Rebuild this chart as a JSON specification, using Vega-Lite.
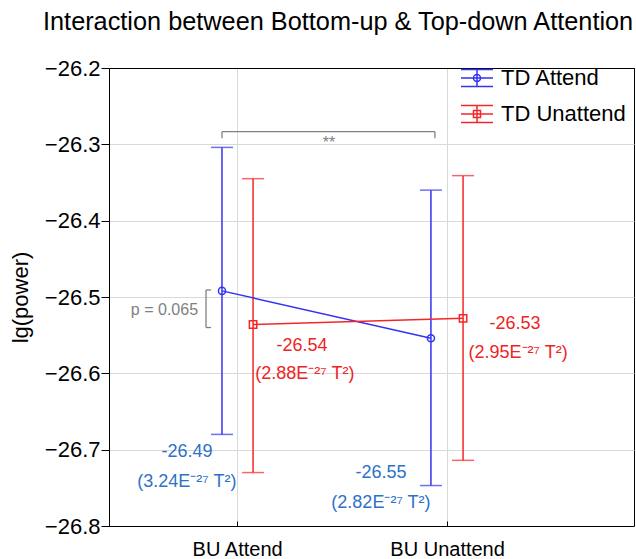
{
  "$schema": "https://vega.github.io/schema/vega-lite/v6.json",
  "width": 525,
  "height": 458,
  "autosize": {"type": "none"},
  "padding": {"left": 109, "top": 68, "right": 2, "bottom": 33},
  "background": "white",
  "title": {
    "text": "Interaction between Bottom-up & Top-down Attention",
    "font": "Liberation Sans",
    "fontSize": 25.3,
    "fontWeight": "normal",
    "color": "black",
    "anchor": "start",
    "frame": "group",
    "dx": -66,
    "offset": 2,
    "baseline": "alphabetic"
  },
  "config": {
    "view": {"stroke": "black", "strokeWidth": 1},
    "font": "Liberation Sans",
    "legend": {
      "orient": "none", "legendX": 351, "legendY": -7,
      "title": null, "padding": 0,
      "labelFontSize": 22, "labelFont": "Liberation Sans", "labelColor": "black",
      "labelOffset": 7, "symbolSize": 1024, "symbolStrokeWidth": 1.5,
      "symbolOpacity": 1, "symbolFillColor": "transparent", "rowPadding": 7
    }
  },
  "datasets": {
    "means": [
      {"condition": "BU Attend", "series": "TD Attend", "pos": 0.928, "mean": -26.492, "lo": -26.680, "hi": -26.304},
      {"condition": "BU Unattend", "series": "TD Attend", "pos": 1.923, "mean": -26.554, "lo": -26.747, "hi": -26.360},
      {"condition": "BU Attend", "series": "TD Unattend", "pos": 1.076, "mean": -26.536, "lo": -26.730, "hi": -26.345},
      {"condition": "BU Unattend", "series": "TD Unattend", "pos": 2.076, "mean": -26.528, "lo": -26.714, "hi": -26.341}
    ],
    "labels": [
      {"series": "TD Attend", "x": 0.761, "y": -26.703, "text": "-26.49"},
      {"series": "TD Attend", "x": 0.761, "y": -26.742, "text": "(3.24E⁻²⁷ T²)"},
      {"series": "TD Attend", "x": 1.685, "y": -26.731, "text": "-26.55"},
      {"series": "TD Attend", "x": 1.685, "y": -26.770, "text": "(2.82E⁻²⁷ T²)"},
      {"series": "TD Unattend", "x": 1.309, "y": -26.564, "text": "-26.54"},
      {"series": "TD Unattend", "x": 1.323, "y": -26.601, "text": "(2.88E⁻²⁷ T²)"},
      {"series": "TD Unattend", "x": 2.323, "y": -26.535, "text": "-26.53"},
      {"series": "TD Unattend", "x": 2.338, "y": -26.573, "text": "(2.95E⁻²⁷ T²)"}
    ],
    "brackets": [
      {"x": 0.928, "x2": 1.942, "y": -26.2834, "y2": -26.2834},
      {"x": 0.928, "x2": 0.928, "y": -26.2834, "y2": -26.292},
      {"x": 1.942, "x2": 1.942, "y": -26.2834, "y2": -26.292},
      {"x": 0.852, "x2": 0.852, "y": -26.4908, "y2": -26.540},
      {"x": 0.852, "x2": 0.876, "y": -26.4908, "y2": -26.4908},
      {"x": 0.852, "x2": 0.876, "y": -26.540, "y2": -26.540}
    ]
  },
  "layer": [
    {
      "data": {"name": "means"},
      "mark": {"type": "rule", "strokeWidth": 1.5},
      "encoding": {
        "x": {
          "field": "pos", "type": "quantitative",
          "scale": {"domain": [0.39, 2.89], "nice": false, "zero": false},
          "axis": {
            "values": [1, 2],
            "labelExpr": "datum.value == 1 ? 'BU Attend' : 'BU Unattend'",
            "title": null,
            "grid": true, "gridColor": "#d9d9d9",
            "tickSize": -5, "tickColor": "black",
            "domainColor": "black",
            "labelFontSize": 20, "labelColor": "black", "labelFont": "Liberation Sans",
            "labelPadding": 18
          }
        },
        "y": {
          "field": "lo", "type": "quantitative",
          "scale": {"domain": [-26.8, -26.2], "nice": false, "zero": false},
          "axis": {
            "values": [-26.8, -26.7, -26.6, -26.5, -26.4, -26.3, -26.2],
            "format": ".1f",
            "title": "lg(power)",
            "titleFontSize": 22, "titleFontWeight": "normal", "titleColor": "black", "titleFont": "Liberation Sans",
            "labelFontSize": 22, "labelColor": "black", "labelFont": "Liberation Sans",
            "tickSize": 8, "tickColor": "black", "domainColor": "black",
            "grid": true,
            "gridColor": {"condition": {"test": "datum.value > -26.21", "value": "black"}, "value": "#d9d9d9"},
            "labelPadding": 1, "titlePadding": 12
          }
        },
        "y2": {"field": "hi"},
        "color": {
          "field": "series", "type": "nominal",
          "scale": {"domain": ["TD Attend", "TD Unattend"], "range": ["#3333f2", "#f52626"]}
        }
      }
    },
    {
      "data": {"name": "means"},
      "mark": {"type": "tick", "orient": "horizontal", "size": 22, "thickness": 1.5},
      "encoding": {
        "x": {"field": "pos", "type": "quantitative"},
        "y": {"field": "lo", "type": "quantitative"},
        "color": {"field": "series", "type": "nominal"}
      }
    },
    {
      "data": {"name": "means"},
      "mark": {"type": "tick", "orient": "horizontal", "size": 22, "thickness": 1.5},
      "encoding": {
        "x": {"field": "pos", "type": "quantitative"},
        "y": {"field": "hi", "type": "quantitative"},
        "color": {"field": "series", "type": "nominal"}
      }
    },
    {
      "data": {"name": "means"},
      "mark": {"type": "line", "strokeWidth": 1.5},
      "encoding": {
        "x": {"field": "pos", "type": "quantitative"},
        "y": {"field": "mean", "type": "quantitative"},
        "color": {"field": "series", "type": "nominal"}
      }
    },
    {
      "data": {"name": "means"},
      "transform": [{"filter": "datum.series == 'TD Attend'"}],
      "mark": {"type": "point", "shape": "circle", "filled": false, "size": 50, "strokeWidth": 1.5, "opacity": 1},
      "encoding": {
        "x": {"field": "pos", "type": "quantitative"},
        "y": {"field": "mean", "type": "quantitative"},
        "color": {"field": "series", "type": "nominal"}
      }
    },
    {
      "data": {"name": "means"},
      "transform": [{"filter": "datum.series == 'TD Unattend'"}],
      "mark": {"type": "point", "shape": "square", "filled": false, "size": 55, "strokeWidth": 1.5, "opacity": 1},
      "encoding": {
        "x": {"field": "pos", "type": "quantitative"},
        "y": {"field": "mean", "type": "quantitative"},
        "color": {"field": "series", "type": "nominal"}
      }
    },
    {
      "data": {"name": "means"},
      "mark": {"type": "point", "filled": false, "opacity": 0, "strokeWidth": 1.5},
      "encoding": {
        "x": {"field": "pos", "type": "quantitative"},
        "y": {"field": "mean", "type": "quantitative"},
        "color": {"field": "series", "type": "nominal"},
        "shape": {
          "field": "series", "type": "nominal",
          "scale": {
            "domain": ["TD Attend", "TD Unattend"],
            "range": [
              "M-1,-0.53H1M-1,0H1M-1,0.53H1M0,-0.53V0.53M0.22,0A0.22,0.22 0 1,1 -0.22,0A0.22,0.22 0 1,1 0.22,0ZM0.22,0A0.22,0.22 0 1,0 -0.22,0A0.22,0.22 0 1,0 0.22,0Z",
              "M-1,-0.53H1M-1,0H1M-1,0.53H1M0,-0.53V0.53M-0.22,-0.22H0.22V0.22H-0.22ZM-0.22,-0.22V0.22H0.22V-0.22Z"
            ]
          }
        }
      }
    },
    {
      "data": {"name": "brackets"},
      "mark": {"type": "rule", "color": "#808080", "strokeWidth": 1.3},
      "encoding": {
        "x": {"field": "x", "type": "quantitative"},
        "x2": {"field": "x2"},
        "y": {"field": "y", "type": "quantitative"},
        "y2": {"field": "y2"}
      }
    },
    {
      "data": {"name": "labels"},
      "transform": [{"filter": "datum.series == 'TD Attend'"}],
      "mark": {"type": "text", "font": "Liberation Sans", "fontSize": 18, "color": "#2d72c8", "align": "center", "baseline": "middle"},
      "encoding": {
        "x": {"field": "x", "type": "quantitative"},
        "y": {"field": "y", "type": "quantitative"},
        "text": {"field": "text"}
      }
    },
    {
      "data": {"name": "labels"},
      "transform": [{"filter": "datum.series == 'TD Unattend'"}],
      "mark": {"type": "text", "font": "Liberation Sans", "fontSize": 18, "color": "#ee2424", "align": "center", "baseline": "middle"},
      "encoding": {
        "x": {"field": "x", "type": "quantitative"},
        "y": {"field": "y", "type": "quantitative"},
        "text": {"field": "text"}
      }
    },
    {
      "data": {"values": [{"x": 0.814, "y": -26.517, "text": "p = 0.065"}]},
      "mark": {"type": "text", "font": "Liberation Sans", "fontSize": 16, "color": "#7f7f7f", "align": "right", "baseline": "middle"},
      "encoding": {
        "x": {"field": "x", "type": "quantitative"},
        "y": {"field": "y", "type": "quantitative"},
        "text": {"field": "text"}
      }
    },
    {
      "data": {"values": [{"x": 1.4376, "y": -26.2987, "text": "**"}]},
      "mark": {"type": "text", "font": "Liberation Sans", "fontSize": 16, "color": "#7f7f7f", "align": "center", "baseline": "middle"},
      "encoding": {
        "x": {"field": "x", "type": "quantitative"},
        "y": {"field": "y", "type": "quantitative"},
        "text": {"field": "text"}
      }
    }
  ]
}
